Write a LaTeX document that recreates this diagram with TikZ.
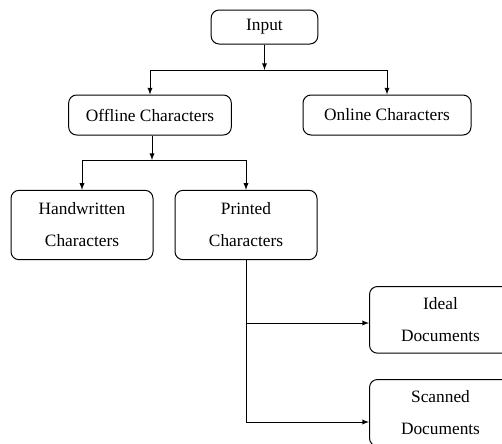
\documentclass[tikz,border=0pt]{standalone}
\usepackage{fontspec}
\setmainfont{Liberation Serif}
\usetikzlibrary{positioning}

\begin{document}
\begin{tikzpicture}[x=0.75pt,y=-0.75pt,>=latex,line width=0.75pt,
    box/.style={draw,rounded corners=6pt,align=center,font={\fontsize{13}{24}\selectfont}},
    wide/.style={box,minimum height=30pt},
    tall/.style={box,minimum width=106.5pt,minimum height=52pt}]
  \useasboundingbox (0,0) rectangle (502,443);

  \node [box,minimum width=80pt,minimum height=25.5pt] (inp) at (264.5,27) {Input};
  \node [wide,minimum width=122pt] (off) at (150,115) {Offline Characters};
  \node [wide,minimum width=126pt] (on) at (387,115) {Online Characters};
  \node [tall] (hw) at (82,225) {Handwritten\\Characters};
  \node [tall] (pr) at (246,225) {Printed\\Characters};
  \node [tall,minimum height=50pt,anchor=north west] (id) at (369,286) {Ideal\\Documents};
  \node [tall,minimum height=50pt,anchor=north west] (sc) at (369,379) {Scanned\\Documents};

  \coordinate (j1) at (264.5,70);
  \coordinate (j2) at (152,160);
  \coordinate (b1) at (246,323);
  \coordinate (b2) at (246,422);

  \draw[->] (inp) -- (j1);
  \draw[->] (j1) -| (off);
  \draw[->] (j1) -| (on);

  \draw[->] (off.south -| j2) -- (j2);
  \draw[->] (j2) -| (hw);
  \draw[->] (j2) -| (pr);

  \draw (pr) -- (b2);
  \draw[->] (b1) -- (id.west |- b1);
  \draw[->] (b2) -- (sc.west |- b2);
\end{tikzpicture}
\end{document}
